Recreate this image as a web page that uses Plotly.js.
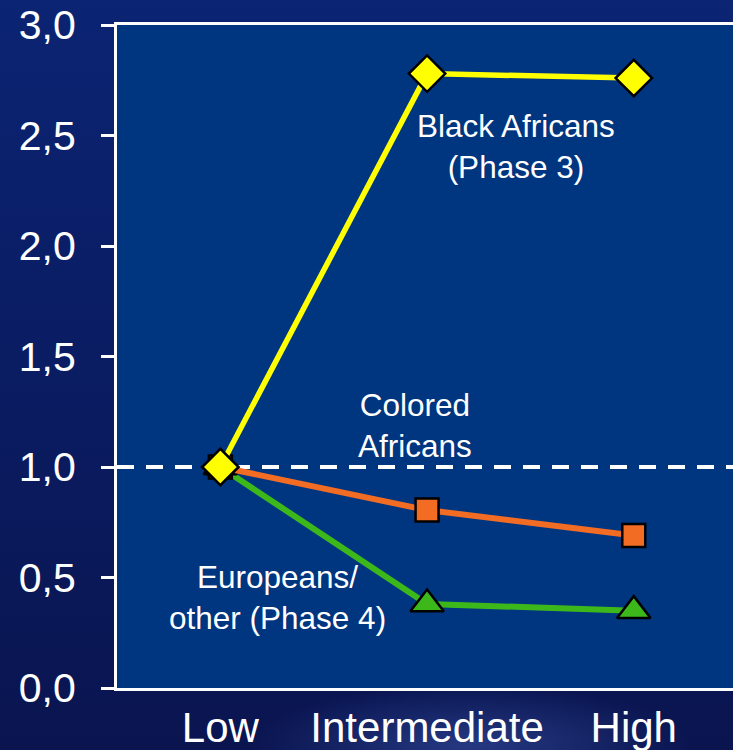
<!DOCTYPE html>
<html>
<head>
<meta charset="utf-8">
<script src="https://cdn.plot.ly/plotly-3.0.1.min.js"></script>
<style>
  html, body { margin: 0; padding: 0; }
  body {
    width: 733px; height: 750px; overflow: hidden;
    background:
      radial-gradient(ellipse 220px 60px at 470px 745px, rgba(70,100,190,0.45), rgba(70,100,190,0) 100%),
      linear-gradient(to bottom, #0b2473 0%, #0a1c62 50%, #0a1550 100%);
  }
  #chart { width: 733px; height: 750px; }
</style>
</head>
<body>
<div id="chart"></div>
<script>
const categories = ["Low", "Intermediate", "High"];
const blackAfricans = [1.0, 2.78, 2.76];
const coloredAfricans = [1.0, 0.805, 0.69];
const europeans = [1.0, 0.38, 0.35];
const yTickVals = [0, 0.5, 1.0, 1.5, 2.0, 2.5, 3.0];
const yTickText = ["0,0", "0,5", "1,0", "1,5", "2,0", "2,5", "3,0"];
const referenceLevel = 1.0;
const labels = [
  {text: "Black Africans<br>(Phase 3)", x: 1.43, y: 2.45},
  {text: "Colored<br>Africans", x: 0.94, y: 1.19},
  {text: "Europeans/<br>other (Phase 4)", x: 0.275, y: 0.41}
];

const xIdx = categories.map((c, i) => i);
const font = "Liberation Sans, Arial, sans-serif";

const traces = [
  {
    x: xIdx, y: europeans, type: "scatter", mode: "lines+markers",
    line: {color: "#3cb81b", width: 6},
    marker: {symbol: "triangle-up", size: 29, color: "#3cb81b", line: {color: "#000", width: 2.5}},
    cliponaxis: false
  },
  {
    x: xIdx, y: coloredAfricans, type: "scatter", mode: "lines+markers",
    line: {color: "#f36c23", width: 6},
    marker: {symbol: "square", size: 23, color: "#f36c23", line: {color: "#000", width: 2.5}},
    cliponaxis: false
  },
  {
    x: xIdx, y: blackAfricans, type: "scatter", mode: "lines+markers",
    line: {color: "#ffff00", width: 5.5},
    marker: {symbol: "diamond", size: 28, color: "#ffff00", line: {color: "#000", width: 2.5}},
    cliponaxis: false
  }
];

const layout = {
  width: 733, height: 750,
  margin: {l: 117, r: 0, t: 25, b: 62},
  paper_bgcolor: "rgba(0,0,0,0)",
  plot_bgcolor: "#003580",
  showlegend: false,
  font: {family: font, color: "#ffffff"},
  xaxis: {
    range: [-0.5, 2.48],
    tickvals: xIdx, ticktext: categories,
    showgrid: false, zeroline: false,
    showline: true, linecolor: "#ffffff", linewidth: 3, mirror: true,
    ticks: "", ticklabelstandoff: 1,
    tickfont: {family: font, size: 42, color: "#ffffff"},
    fixedrange: true
  },
  yaxis: {
    range: [0, 3],
    tickvals: yTickVals, ticktext: yTickText,
    showgrid: false, zeroline: false,
    showline: true, linecolor: "#ffffff", linewidth: 3,
    ticks: "outside", ticklen: 13, tickwidth: 3, tickcolor: "#ffffff",
    ticklabelstandoff: 17,
    tickfont: {family: font, size: 41, color: "#ffffff"},
    fixedrange: true
  },
  shapes: [{
    type: "line", xref: "paper", x0: 0, x1: 1, yref: "y", y0: referenceLevel, y1: referenceLevel,
    line: {color: "#ffffff", width: 4, dash: "17px,12px"}, layer: "below"
  }],
  annotations: labels.map(l => ({
    text: l.text, x: l.x, y: l.y, xref: "x", yref: "y",
    showarrow: false, align: "center",
    font: {family: font, size: 31.5, color: "#ffffff"}
  }))
};

Plotly.newPlot("chart", traces, layout, {displayModeBar: false, staticPlot: true});
</script>
</body>
</html>
